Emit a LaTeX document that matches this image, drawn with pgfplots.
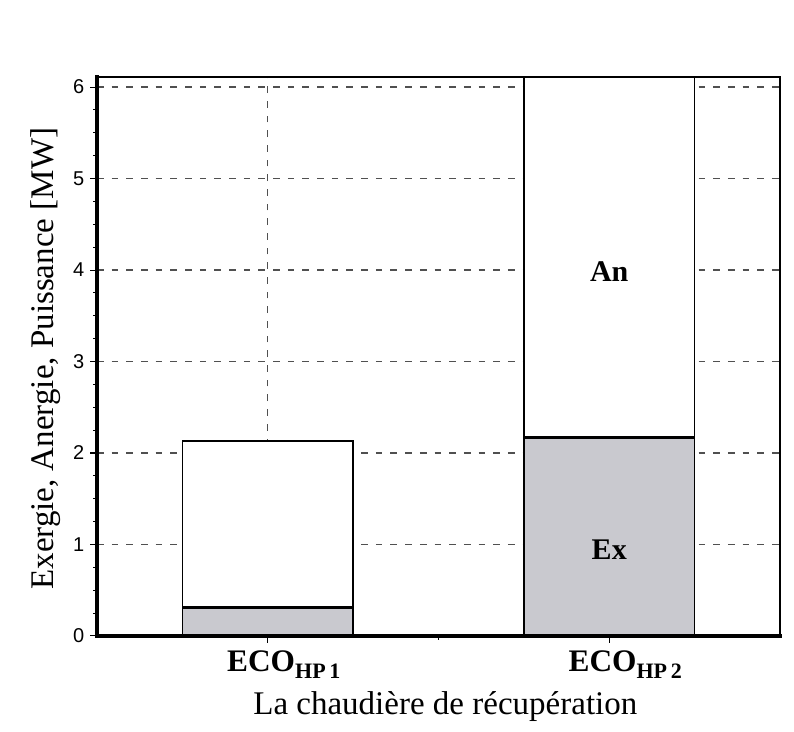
\documentclass[border=0pt]{standalone}
\usepackage{fontspec}
\setmainfont{Liberation Serif}
\newfontfamily\arial{Liberation Sans}
\usepackage{pgfplots}
\pgfplotsset{compat=1.18}
\definecolor{exgray}{RGB}{201,201,207}
\definecolor{gridc}{RGB}{80,80,80}
\newcommand{\eco}[1]{\textbf{ECO}\raisebox{-0.2em}{\fontsize{16.5}{16.5}\selectfont\textbf{HP\,#1}}}
\begin{document}
\begin{tikzpicture}
\begin{axis}[
  name=ax, at={(0,0)}, anchor=south west,
  width=512pt, height=419pt, scale only axis,
  xmin=0.5, xmax=2.5, ymin=0, ymax=6.11,
  xtick={1,2}, minor xtick={1.5},
  xticklabels={\eco{1},\eco{2}},
  ytick={0,1,2,3,4,5,6},
  yticklabels={0,1,2,3,4,5,6},
  minor y tick num=3,
  tick pos=left, tick align=outside,
  major tick length=5pt, minor tick length=3pt,
  tick style={black, line width=0.8pt},
  xmajorgrids, ymajorgrids,
  major grid style={gridc, line width=1pt, dash pattern=on 5pt off 6pt},
  axis line style={black, line width=1.2pt},
  yticklabel style={font=\arial\fontsize{15}{15}\selectfont, xshift=-1pt},
  xticklabel style={font=\fontsize{23.5}{23.5}\selectfont, anchor=base, yshift=-22pt, xshift=12pt},
  xlabel={La chaudière de récupération},
  ylabel={Exergie, Anergie, Puissance [MW]},
  label style={font=\fontsize{24.75}{28}\selectfont},
  xlabel style={at={(axis description cs:0.51,0)}, anchor=base, yshift=-59pt},
  ylabel style={at={(axis description cs:-0.075,0.496)}, anchor=center},
  clip=false,
]
% totals (Exergie + Anergie)
\addplot[ybar, bar width=0.5, bar shift=0pt, fill=white, draw=black, line width=1pt]
  coordinates {(1,2.13) (2,6.11)};
% Exergie
\addplot[ybar, bar width=0.5, bar shift=0pt, fill=exgray, draw=black, line width=1pt]
  coordinates {(1,0.31) (2,2.17)};
% thick separating lines at top of Ex
\addplot[black, line width=2.2pt] coordinates {(0.75,0.31) (1.25,0.31)};
\addplot[black, line width=2.2pt] coordinates {(1.75,2.17) (2.25,2.17)};
\node[font=\bfseries\fontsize{22.5}{22.5}\selectfont] at (axis cs:2,3.98) {An};
\node[font=\bfseries\fontsize{22.5}{22.5}\selectfont] at (axis cs:2,0.94) {Ex};
\end{axis}
\draw[line width=3pt, line cap=rect] (ax.north west) -- (ax.south west);
\draw[line width=2.4pt, line cap=rect] (ax.south west) -- (ax.south east);
\pgfresetboundingbox
\path ([shift={(-72.75pt,-72pt)}]ax.south west) rectangle ([shift={(10.5pt,57.75pt)}]ax.north east);
\end{tikzpicture}
\end{document}
